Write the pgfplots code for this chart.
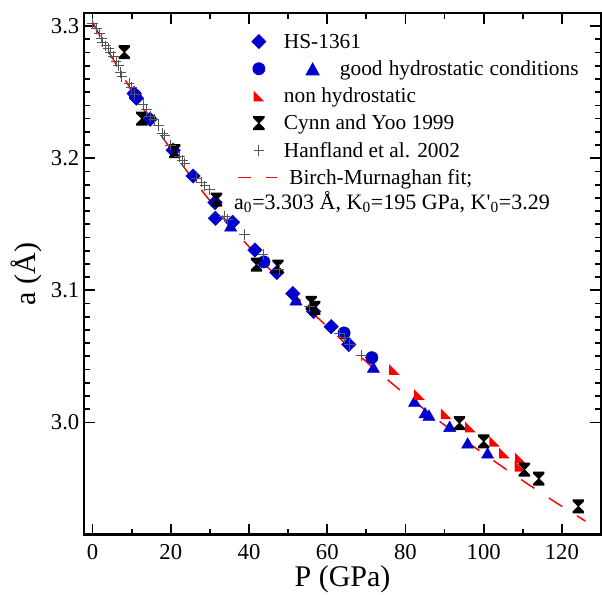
\documentclass[border=0pt]{standalone}
\usepackage{pgfplots}
\pgfplotsset{compat=1.18}
\usepackage{fontspec}
\setmainfont{Liberation Serif}
\definecolor{myblue}{RGB}{0,0,204}
\definecolor{myred}{RGB}{255,0,0}
\definecolor{mygray}{RGB}{85,85,85}

\pgfdeclareplotmark{rtri}{%
 \pgfpathmoveto{\pgfqpoint{-\pgfplotmarksize}{\pgfplotmarksize}}%
 \pgfpathlineto{\pgfqpoint{-\pgfplotmarksize}{-\pgfplotmarksize}}%
 \pgfpathlineto{\pgfqpoint{\pgfplotmarksize}{-\pgfplotmarksize}}%
 \pgfpathclose\pgfusepathqfill}
\pgfdeclareplotmark{hglass}{%
 \pgfpathmoveto{\pgfqpoint{-0.85\pgfplotmarksize}{1.05\pgfplotmarksize}}%
 \pgfpathlineto{\pgfqpoint{0.85\pgfplotmarksize}{1.05\pgfplotmarksize}}%
 \pgfpathlineto{\pgfqpoint{0.85\pgfplotmarksize}{0.75\pgfplotmarksize}}%
 \pgfpathlineto{\pgfqpoint{0.1\pgfplotmarksize}{0pt}}%
 \pgfpathlineto{\pgfqpoint{0.85\pgfplotmarksize}{-0.75\pgfplotmarksize}}%
 \pgfpathlineto{\pgfqpoint{0.85\pgfplotmarksize}{-1.05\pgfplotmarksize}}%
 \pgfpathlineto{\pgfqpoint{-0.85\pgfplotmarksize}{-1.05\pgfplotmarksize}}%
 \pgfpathlineto{\pgfqpoint{-0.85\pgfplotmarksize}{-0.75\pgfplotmarksize}}%
 \pgfpathlineto{\pgfqpoint{-0.1\pgfplotmarksize}{0pt}}%
 \pgfpathlineto{\pgfqpoint{-0.85\pgfplotmarksize}{0.75\pgfplotmarksize}}%
 \pgfpathclose\pgfusepathqfill}
\pgfplotsset{bmleg/.style={legend image code/.code={\draw[color=myred, line width=1.2pt, dash pattern=on 10pt off 11pt] (-7.25pt,0pt) -- (21.75pt,0pt);}}}

\begin{document}
\begin{tikzpicture}
\begin{axis}[
  at={(0,0)}, anchor=south west,
  scale only axis, width=387.75pt, height=391.3pt,
  xmin=-2.2, xmax=130, ymin=2.915, ymax=3.31,
  xtick={0,20,...,120}, minor x tick num=1,
  ytick={3.0,3.1,3.2,3.3}, minor y tick num=9,
  tick align=inside, xtick pos=both, ytick pos=both,
  major tick length=8pt, minor tick length=4.5pt,
  every tick/.style={black, line width=1.3pt},
  axis line style={line width=1.9pt},
  tick label style={font=\fontsize{17}{19}\selectfont},
  /pgf/number format/assume math mode=true,
  yticklabel style={/pgf/number format/.cd, fixed, fixed zerofill, precision=1},
  xticklabel style={yshift=-3.5pt},
  xlabel={P (GPa)}, ylabel={a (Å)},
  label style={font=\fontsize{22.5}{26}\selectfont},
  xlabel style={yshift=2pt},
  legend cell align=left,
  legend style={at={(rel axis cs:0.296,0.963)}, anchor=north west, draw=none, fill=none,
    inner sep=0pt, outer sep=0pt, font=\fontsize{16}{19}\selectfont, row sep=6.4pt,
    nodes={inner sep=0pt, text height=12pt, text depth=2pt},
    /tikz/every odd column/.append style={column sep=5pt}},
]
% blue triangles (good hydrostatic), drawn first
\addplot[only marks, mark=triangle*, mark size=5.2pt, color=myblue, forget plot] coordinates {
(35.3,3.1475) (52.0,3.0915) (71.8,3.0405) (82.3,3.0147) (85.0,3.0060) (86.0,3.0042)
(91.3,2.9957) (95.9,2.9831) (101.0,2.9755)};
% HS-1361
\addplot[only marks, mark=square*, mark size=3.8pt, mark options={rotate=45}, color=myblue] coordinates {
(10.6,3.2490) (11.2,3.2455) (14.7,3.2295) (20.6,3.2060) (25.7,3.1865) (31.3,3.1665)
(31.4,3.1545) (35.8,3.1515) (41.5,3.1305) (47.1,3.1135) (51.2,3.0975) (56.5,3.0840)
(61.0,3.0725) (65.5,3.0590)};
\addlegendentry{HS-1361}
% good hydrostatic circles
\addplot[only marks, mark=*, mark size=4.6pt, color=myblue] coordinates {
(10.9,3.2475) (43.8,3.1215) (64.3,3.0677) (71.4,3.0490)};
\addlegendentry{\hspace*{16pt}\tikz[x=1pt,y=1pt,baseline=0pt]\fill[myblue] (0,0)--(11,0)--(5.5,10)--cycle;\hspace*{15pt}good\hspace*{4.6pt}hydrostatic\hspace*{4.6pt}conditions}
% non hydrostatic
\addplot[only marks, mark=rtri, mark size=4pt, color=myred] coordinates {
(77.2,3.0400) (83.6,3.0210) (90.4,3.0066) (96.6,2.9965) (102.8,2.9856) (105.3,2.9768)
(109.4,2.9730) (109.3,2.9667)};
\addlegendentry{non hydrostatic}
% Cynn and Yoo 1999
\addplot[only marks, mark=hglass, mark size=5pt, color=black] coordinates {
(8.1,3.2803) (12.6,3.2300) (21.0,3.2053) (31.7,3.1687) (41.9,3.1195) (47.4,3.1180)
(55.9,3.0905) (56.8,3.0867) (93.8,2.9995) (100.0,2.9856) (110.4,2.9642) (114.1,2.9574)
(124.2,2.9364)};
\addlegendentry{Cynn and Yoo 1999}
% Hanfland et al. 2002
\addplot[only marks, mark=+, mark size=4pt, color=mygray, mark options={line width=0.7pt}] coordinates {
(0.0,3.3020) (1.0,3.2980) (1.7,3.2945) (2.3,3.2910) (2.6,3.2880) (3.4,3.2850) (4.0,3.2830)
(4.6,3.2800) (5.3,3.2770) (6.0,3.2730) (6.6,3.2700) (7.2,3.2650) (7.5,3.2620) (9.3,3.2566)
(9.9,3.2533) (10.8,3.2480) (12.9,3.2407) (13.8,3.2370) (14.8,3.2318) (15.7,3.2293)
(16.8,3.2250) (17.9,3.2187) (18.5,3.2170) (20.0,3.2100) (22.3,3.2010) (23.0,3.1985)
(23.6,3.1960) (26.6,3.1850) (27.8,3.1820) (28.7,3.1790) (30.0,3.1760) (33.8,3.1560)
(34.6,3.1536) (38.9,3.1422) (43.6,3.1270) (47.7,3.1157) (55.5,3.0879) (63.2,3.0677)
(64.4,3.0640) (65.7,3.0589) (68.7,3.0505)};
\addlegendentry{Hanfland et al. 2002}
% Birch-Murnaghan fit
\addplot[color=myred, line width=1.1pt, dash pattern=on 12pt off 13pt, bmleg] coordinates {
(0,3.303) (0.534,3.30) (4.231,3.28) (8.176,3.26) (12.382,3.24) (16.863,3.22) (21.636,3.20)
(26.713,3.18) (32.113,3.16) (37.851,3.14) (43.946,3.12) (50.415,3.10) (57.277,3.08)
(64.553,3.06) (72.262,3.04) (80.429,3.02) (89.07,3.00) (98.21,2.98) (107.88,2.96)
(118.10,2.94) (126.0,2.9253)};
\addlegendentry{\hspace*{4pt}Birch-Murnaghan fit;}
\node[anchor=base west, inner sep=0pt, font=\fontsize{16.5}{19}\selectfont] at (rel axis cs:0.290,0.6235)
  {a\textsubscript{0}=3.303 Å, K\textsubscript{0}=195 GPa, K\textquotesingle\textsubscript{0}=3.29};
\end{axis}
\pgfresetboundingbox
\useasboundingbox (-63pt,-45.2pt) rectangle (388.5pt,401pt);
\end{tikzpicture}
\end{document}
